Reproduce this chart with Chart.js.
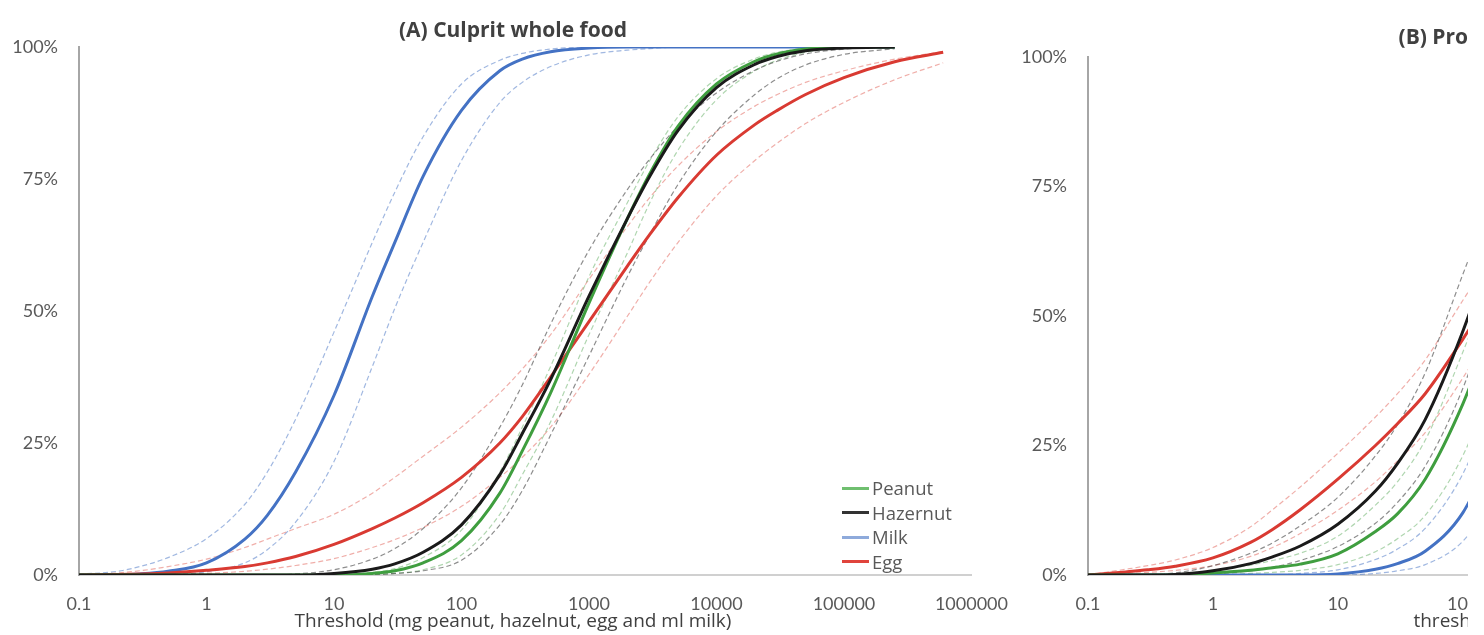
<!DOCTYPE html>
<html>
<head>
<meta charset="utf-8">
<script src="https://cdn.jsdelivr.net/npm/chart.js@4.4.1/dist/chart.umd.min.js"></script>
<style>
    body { margin: 0; width: 1484px; height: 635px; overflow: hidden; position: relative; background: #fff; }
    .wrap { position: absolute; top: 0; height: 635px; overflow: hidden; }
    .legend { position: absolute; left: 842px; top: 476px; color: #595959; font-family: "Open Sans", sans-serif; font-size: 18.5px; line-height: 24.5px; }
    .legend div { display: flex; align-items: center; }
    .legend span.key { display: inline-block; width: 27px; height: 3px; margin-right: 3px; }
</style>
</head>
<body>
<div class="wrap" style="left:0px; width:1026px;"><canvas id="chartA" width="1026" height="635"></canvas></div>
<!-- panel B is cut off by the picture edge -->
<div class="wrap" style="left:1009px; width:459px;"><canvas id="chartB" width="1008" height="635"></canvas></div>
<div class="legend">
    <div><span class="key" style="background:#6fbf6f"></span>Peanut</div>
    <div><span class="key" style="background:#333333"></span>Hazernut</div>
    <div><span class="key" style="background:#8eaadb"></span>Milk</div>
    <div><span class="key" style="background:#e0443c"></span>Egg</div>
</div>
<script>
// =========================
// Axis ticks
// =========================
const xTicks = [0.1, 1, 10, 100, 1000, 10000, 100000, 1000000];
const yTicks = [0, 25, 50, 75, 100];

// =========================
// Data: (A) culprit whole food, % of patients reacting
// =========================
const thresholdsA = [0.1, 0.2, 0.3, 0.5, 1, 2, 3, 5, 10, 20, 30, 50, 100, 200, 300, 500,
    1000, 2000, 3000, 5000, 10000, 20000, 30000, 50000, 100000, 250000, 600000];

const peanutA    = [0, 0, 0, 0, 0, 0, 0, 0, 0, 0.3, 0.8, 2.3, 6.5, 15.5, 23.5, 34.5, 51.5, 67.5, 76, 85, 93, 97.3, 98.7, 99.6, 100, 100, null];
const peanutA_hi = [0, 0, 0, 0, 0, 0, 0, 0, 0, 0.5, 1.2, 3.3, 8.5, 19.5, 28, 39.5, 56.5, 70.5, 78.5, 86.8, 94, 97.8, 99, 99.7, 100, 100, null];
const peanutA_lo = [0, 0, 0, 0, 0, 0, 0, 0, 0, 0.1, 0.3, 1, 3.8, 11.5, 19, 29, 45.5, 61, 70.5, 80.5, 90, 95.5, 97.5, 99, 99.8, 100, null];

const hazelA    = [0, 0, 0, 0, 0, 0, 0, 0, 0.3, 1.1, 2.1, 4.3, 9.5, 19, 26.8, 37, 52.8, 67.5, 75.5, 84.2, 92.3, 96.7, 98.2, 99.3, 99.8, 100, null];
const hazelA_hi = [0, 0, 0, 0, 0, 0, 0, 0.2, 1, 3, 5, 8.8, 16.5, 28, 36, 47.5, 61.5, 73, 78.8, 85, 91.3, 95.6, 97.3, 98.7, 99.6, 100, null];
const hazelA_lo = [0, 0, 0, 0, 0, 0, 0, 0, 0, 0.1, 0.3, 0.8, 2.8, 9.5, 16, 26.5, 41.5, 56.5, 64.5, 74, 84, 91, 94, 96.6, 98.6, 99.7, null];

const milkA    = [0, 0.05, 0.2, 0.7, 2.3, 6.8, 11.3, 19.5, 34, 52.8, 63, 75.5, 88, 95.5, 97.7, 99.1, 99.8, 100, 100, 100, 100, 100, 100, 100, 100, 100, null];
const milkA_hi = [0.15, 0.7, 1.6, 3.3, 6.9, 13.4, 19.5, 29.5, 46, 63, 72.5, 83, 93, 97.5, 98.8, 99.6, 100, 100, 100, 100, 100, 100, 100, 100, 100, 100, null];
const milkA_lo = [0, 0, 0, 0.05, 0.6, 2.3, 4.8, 10, 21.5, 39.5, 50.5, 63, 78.5, 89.5, 93.3, 96.3, 98.5, 99.4, 99.7, 100, 100, 100, 100, 100, 100, 100, null];

const eggA    = [0, 0.1, 0.2, 0.4, 0.9, 1.6, 2.3, 3.5, 5.8, 8.8, 10.8, 13.7, 18.5, 25, 30, 37.5, 48, 58.5, 64.5, 71.5, 79.5, 85.3, 88, 91, 94.2, 97.2, 99];
const eggA_hi = [0, 0.4, 0.8, 1.6, 3, 5.2, 6.8, 8.8, 11.5, 15.5, 18.5, 22.5, 28, 34.5, 39, 45.5, 56, 66, 71.5, 77.5, 84, 88.8, 91, 93.3, 95.5, 97.7, 99.1];
const eggA_lo = [0, 0, 0.05, 0.1, 0.3, 0.7, 1.1, 1.8, 3.1, 5.2, 6.7, 9, 13, 18.5, 22.3, 28, 38, 49, 55.5, 63, 71.8, 78.5, 81.8, 85.5, 89.5, 93.8, 97];

// =========================
// Data: (B) protein
// =========================
const thresholdsB = [0.1, 0.2, 0.3, 0.5, 1, 2, 3, 5, 10, 20, 30, 50, 100, 200];

const peanutB    = [0, 0, 0, 0, 0.4, 0.9, 1.4, 2.1, 4.1, 8.4, 11.8, 18.5, 33, 52];
const peanutB_hi = [0, 0, 0, 0.2, 0.9, 1.9, 2.8, 4.2, 7.5, 13.5, 18, 26, 43, 62];
const peanutB_lo = [0, 0, 0, 0, 0, 0.3, 0.5, 0.9, 2, 4.5, 7, 11.5, 23, 41];

const hazelB    = [0, 0, 0, 0.1, 0.8, 2.2, 3.5, 5.6, 9.8, 16.2, 21.5, 30, 47, 68];
const hazelB_hi = [0, 0, 0.1, 0.4, 1.8, 4.2, 6.2, 9.5, 15, 23, 29, 39, 58, 77];
const hazelB_lo = [0, 0, 0, 0, 0.2, 0.8, 1.5, 2.8, 5.5, 10, 14, 21, 36, 57];

const milkB    = [0, 0, 0, 0, 0, 0, 0, 0, 0.2, 1.1, 2.2, 4.6, 12, 27];
const milkB_hi = [0, 0, 0, 0, 0, 0, 0, 0.3, 1, 3, 5, 9, 19.5, 37];
const milkB_lo = [0, 0, 0, 0, 0, 0, 0, 0, 0, 0.3, 0.8, 2, 6.5, 17];

const eggB    = [0, 0.6, 1, 1.7, 3.3, 6.3, 8.8, 12.6, 18.5, 25, 29.2, 35, 45.5, 57];
const eggB_hi = [0, 1.1, 1.8, 2.9, 5.3, 9.3, 12.6, 17, 23.5, 30.5, 35, 41.5, 53, 64];
const eggB_lo = [0, 0.3, 0.5, 0.9, 1.8, 3.6, 5.3, 8, 12.5, 18, 22, 27.5, 38, 50];

// =========================
// Helpers
// =========================
Chart.defaults.font.family = 'Lato, "Open Sans", sans-serif';

function points(xs, ys) {
    return xs.map((x, i) => ({ x: x, y: ys[i] }));
}

function solid(label, xs, ys, color) {
    return {
        label: label, data: points(xs, ys), borderColor: color, borderWidth: 3,
        pointRadius: 0, cubicInterpolationMode: 'monotone', fill: false
    };
}

function dashed(label, xs, ys, color) {
    return {
        label: label, data: points(xs, ys), borderColor: color, borderWidth: 1.2,
        borderDash: [5, 3], pointRadius: 0, cubicInterpolationMode: 'monotone', fill: false
    };
}

const GREEN = '#3f9e3f', GREEN_CI = 'rgba(80,165,80,0.45)';
const BLACK = '#1a1a1a', BLACK_CI = 'rgba(50,50,50,0.55)';
const BLUE = '#4472c4', BLUE_CI = 'rgba(68,114,196,0.5)';
const RED = '#d93a32', RED_CI = 'rgba(225,95,85,0.5)';

function buildDatasets(xs, d) {
    // first in the list is drawn on top
    return [
        solid('Hazelnut', xs, d.hazel, BLACK),
        solid('Peanut', xs, d.peanut, GREEN),
        solid('Egg', xs, d.egg, RED),
        solid('Milk', xs, d.milk, BLUE),
        dashed('Hazelnut hi', xs, d.hazelHi, BLACK_CI),
        dashed('Hazelnut lo', xs, d.hazelLo, BLACK_CI),
        dashed('Peanut hi', xs, d.peanutHi, GREEN_CI),
        dashed('Peanut lo', xs, d.peanutLo, GREEN_CI),
        dashed('Egg hi', xs, d.eggHi, RED_CI),
        dashed('Egg lo', xs, d.eggLo, RED_CI),
        dashed('Milk hi', xs, d.milkHi, BLUE_CI),
        dashed('Milk lo', xs, d.milkLo, BLUE_CI)
    ];
}

function buildOptions(cfg) {
    return {
        responsive: false,
        animation: false,
        devicePixelRatio: 1,
        layout: { padding: 0 },
        plugins: {
            legend: { display: false },
            tooltip: { enabled: false },
            title: {
                display: true, text: cfg.title, color: '#404040',
                font: { family: '"Open Sans", sans-serif', size: 21, weight: 'bold' },
                padding: { top: cfg.titleTop, bottom: cfg.titleBottom }
            },
            subtitle: {
                display: true, position: 'bottom', text: cfg.xTitle, color: '#404040',
                font: { family: '"Open Sans", sans-serif', size: 19, weight: 'normal' },
                padding: { top: 0, bottom: 2 }
            }
        },
        scales: {
            x: {
                type: 'logarithmic', min: 0.1, max: 1000000,
                afterBuildTicks: (s) => { s.ticks = xTicks.map(v => ({ value: v })); },
                afterFit: (s) => { s.height = 35.2; },
                ticks: {
                    autoSkip: false, maxRotation: 0, padding: 18, color: '#595959',
                    font: { size: 18 }, callback: (v) => String(v)
                },
                grid: { display: false, drawTicks: false },
                border: { display: true, color: '#d0d0d0', width: 2 }
            },
            y: {
                min: 0, max: 100,
                afterBuildTicks: (s) => { s.ticks = yTicks.map(v => ({ value: v })); },
                afterFit: (s) => { s.width = 79; },
                ticks: { padding: 21, color: '#595959', font: { size: 18 }, callback: (v) => v + '%' },
                grid: { display: false, drawTicks: false },
                border: { display: true, color: '#a6a6a6', width: 2 }
            },
            // empty right-hand space so the titles sit where the original has them
            yRight: {
                position: 'right', min: 0, max: 100,
                afterFit: (s) => { s.width = cfg.rightGap; },
                ticks: { display: false },
                grid: { display: false, drawTicks: false },
                border: { display: false }
            }
        }
    };
}

// =========================
// Render both panels
// =========================
new Chart(document.getElementById('chartA'), {
    type: 'line',
    data: {
        datasets: buildDatasets(thresholdsA, {
            peanut: peanutA, peanutHi: peanutA_hi, peanutLo: peanutA_lo,
            hazel: hazelA, hazelHi: hazelA_hi, hazelLo: hazelA_lo,
            milk: milkA, milkHi: milkA_hi, milkLo: milkA_lo,
            egg: eggA, eggHi: eggA_hi, eggLo: eggA_lo
        })
    },
    options: buildOptions({
        title: '(A) Culprit whole food',
        xTitle: 'Threshold (mg peanut, hazelnut, egg and ml milk)',
        rightGap: 53, titleTop: 18.4, titleBottom: 3.4
    })
});

new Chart(document.getElementById('chartB'), {
    type: 'line',
    data: {
        datasets: buildDatasets(thresholdsB, {
            peanut: peanutB, peanutHi: peanutB_hi, peanutLo: peanutB_lo,
            hazel: hazelB, hazelHi: hazelB_hi, hazelLo: hazelB_lo,
            milk: milkB, milkHi: milkB_hi, milkLo: milkB_lo,
            egg: eggB, eggHi: eggB_hi, eggLo: eggB_lo
        })
    },
    options: buildOptions({
        title: '(B) Protein equivalent',
        xTitle: 'threshold (mg protein)',
        rightGap: 54, titleTop: 25.4, titleBottom: 6.4
    })
});
</script>
</body>
</html>
